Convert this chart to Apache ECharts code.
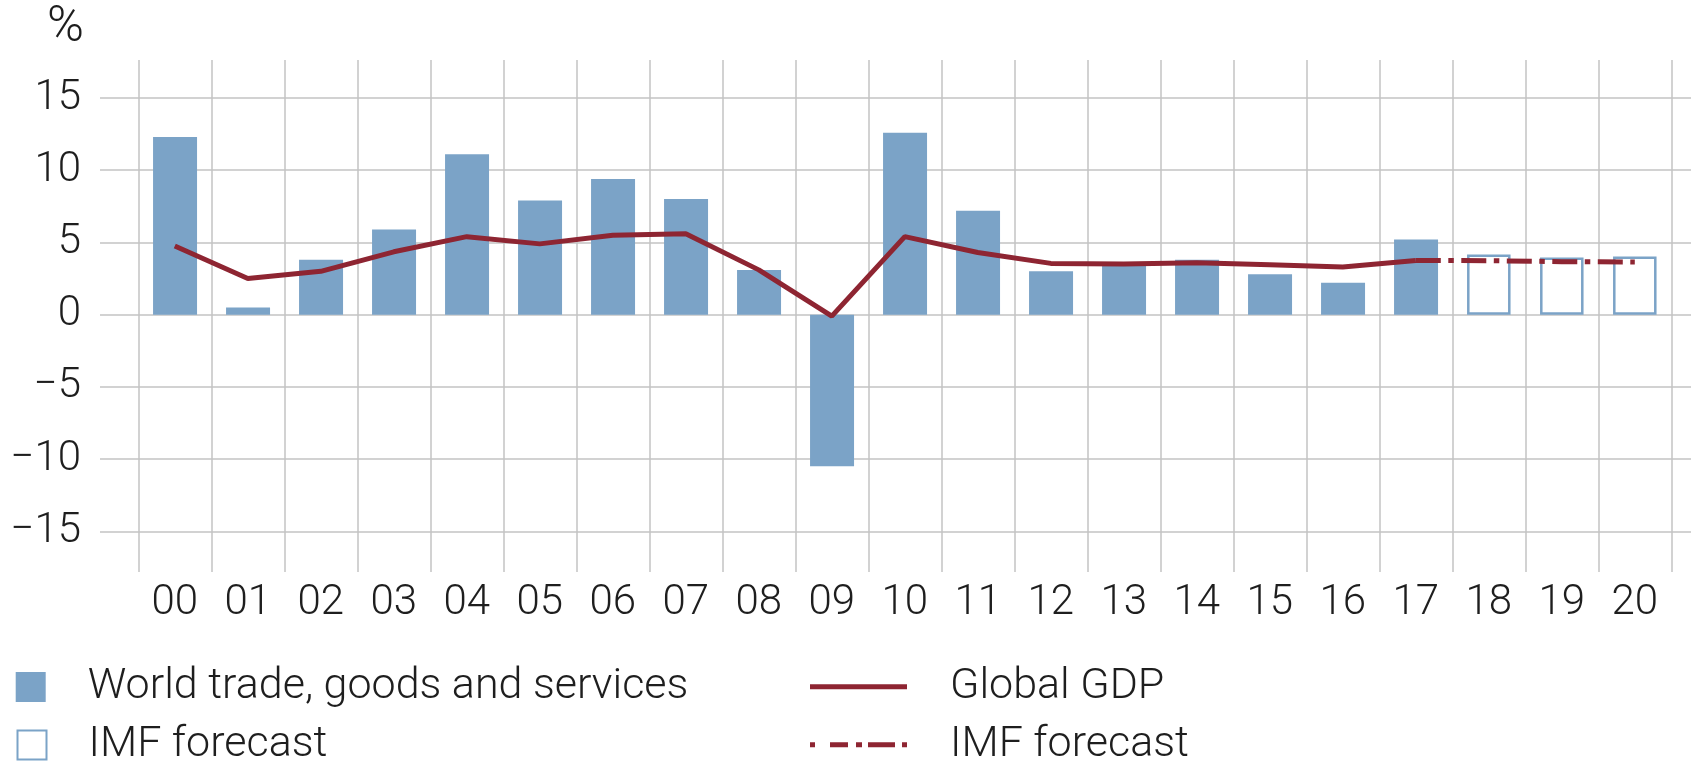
<!DOCTYPE html>
<html>
<head>
<meta charset="utf-8">
<script src="https://cdn.jsdelivr.net/npm/echarts@6/dist/echarts.min.js"></script>
<style>
  html, body { margin: 0; padding: 0; background: #fff; }
  #chart { width: 1694px; height: 763px; }
</style>
</head>
<body>
<div id="chart"></div>
<script>
// ---- data ----
var years = ['00','01','02','03','04','05','06','07','08','09','10','11','12','13','14','15','16','17','18','19','20'];
var tradeValues   = [12.3, 0.5, 3.8, 5.9, 11.1, 7.9, 9.4, 8.0, 3.1, -10.5, 12.6, 7.2, 3.0, 3.4, 3.8, 2.8, 2.2, 5.2, null, null, null];
var tradeForecast = [null, null, null, null, null, null, null, null, null, null, null, null, null, null, null, null, null, null, 4.17, 3.95, 4.02];
var gdpValues     = [4.75, 2.5, 3.0, 4.35, 5.4, 4.9, 5.5, 5.6, 3.1, -0.1, 5.4, 4.3, 3.55, 3.5, 3.6, 3.45, 3.3, 3.75, null, null, null];
var gdpForecast   = [null, null, null, null, null, null, null, null, null, null, null, null, null, null, null, null, null, 3.75, 3.74, 3.67, 3.65];
var yTicks = { min: -15, max: 15, step: 5 };

// ---- layout ----
var W = 1694, H = 763;
var labelTop = 98, labelBottom = 531.3;        // y pixels of +15 and -15 lines
var plotTop = 60, plotBottom = 572;             // extent of the category plot
var ppu = (labelBottom - labelTop) / (yTicks.max - yTicks.min);
var zeroY = labelTop + yTicks.max * ppu;
var plotMax = (zeroY - plotTop) / ppu;
var plotMin = -(plotBottom - zeroY) / ppu;

var BLUE = '#7ba3c7';
var RED = '#8e2532';
var GRID = '#c3c3c3';
var TEXT = '#1e1e1e';
var FONT = 'Roboto';
var FW = 300;

var dashIcon = 'path://M0 0h5v5h-5z M20 0h18v5h-18z M46 0h6v5h-6z M58 0h27v5h-27z M92 0h5v5h-5z';

function legendText(pad) {
  return { fontSize: 43, fontFamily: FONT, fontWeight: FW, color: TEXT, padding: [0, 0, 0, pad] };
}
function legendName(n) { return n.indexOf('IMF forecast') === 0 ? 'IMF forecast' : n; }

var chart = echarts.init(document.getElementById('chart'), null, { renderer: 'canvas' });

chart.setOption({
  animation: false,
  backgroundColor: '#fff',
  textStyle: { fontFamily: FONT, fontWeight: FW, color: TEXT },
  grid: [
    { left: 100, right: 3, top: labelTop, bottom: H - labelBottom, containLabel: false },
    { left: 138.3, right: W - 1671.3, top: plotTop, bottom: H - plotBottom, containLabel: false }
  ],
  xAxis: [
    { gridIndex: 0, type: 'value', show: false, min: 0, max: 1 },
    {
      gridIndex: 1, type: 'category', data: years, boundaryGap: true,
      axisLine: { show: false }, axisTick: { show: false },
      splitLine: { show: true, interval: 0, lineStyle: { color: GRID, width: 1.5 } },
      axisLabel: { interval: 0, margin: 10, fontSize: 42, fontFamily: FONT, fontWeight: FW, color: TEXT }
    }
  ],
  yAxis: [
    {
      gridIndex: 0, type: 'value', min: yTicks.min, max: yTicks.max, interval: yTicks.step,
      axisLine: { show: false }, axisTick: { show: false },
      splitLine: { show: true, lineStyle: { color: GRID, width: 1.5 } },
      axisLabel: {
        margin: 19, fontSize: 42, fontFamily: FONT, fontWeight: FW, color: TEXT,
        formatter: function (v) { return v < 0 ? '\u2212' + Math.abs(v) : String(v); }
      },
      name: '%', nameLocation: 'end', nameGap: 70,
      nameTextStyle: { fontSize: 50, fontFamily: FONT, fontWeight: FW, color: TEXT, align: 'right', verticalAlign: 'middle', padding: [0, 16, 0, 0] }
    },
    { gridIndex: 1, type: 'value', min: plotMin, max: plotMax, show: false, splitLine: { show: false } }
  ],
  legend: [
    {
      left: 15.7, top: 665.5, itemWidth: 30, itemHeight: 30, padding: 0, icon: 'rect',
      data: ['World trade, goods and services'], formatter: legendName, textStyle: legendText(37)
    },
    {
      left: 16.5, top: 723.5, itemWidth: 29, itemHeight: 29, padding: 0, icon: 'rect',
      data: ['IMF forecast (trade)'], formatter: legendName, textStyle: legendText(37)
    },
    {
      left: 810, top: 665.3, itemWidth: 97, itemHeight: 5, padding: 0, icon: 'rect',
      data: ['Global GDP'], formatter: legendName, textStyle: legendText(38)
    },
    {
      left: 810, top: 723.3, itemWidth: 97, itemHeight: 5, padding: 0, icon: dashIcon,
      data: ['IMF forecast (GDP)'], formatter: legendName, textStyle: legendText(38)
    }
  ],
  series: [
    {
      name: 'World trade, goods and services', type: 'bar', xAxisIndex: 1, yAxisIndex: 1,
      data: tradeValues, barWidth: 44, barGap: '-100%',
      itemStyle: { color: BLUE }
    },
    {
      name: 'IMF forecast (trade)', type: 'bar', xAxisIndex: 1, yAxisIndex: 1,
      data: tradeForecast, barWidth: 43.5, barGap: '-100%',
      itemStyle: { color: '#ffffff', borderColor: BLUE, borderWidth: 2.5 }
    },
    {
      name: 'Global GDP', type: 'line', xAxisIndex: 1, yAxisIndex: 1,
      data: gdpValues, symbol: 'none', z: 5,
      lineStyle: { color: RED, width: 5 }, itemStyle: { color: RED }
    },
    {
      name: 'IMF forecast (GDP)', type: 'line', xAxisIndex: 1, yAxisIndex: 1,
      data: gdpForecast, symbol: 'none', z: 5,
      lineStyle: { color: RED, width: 5, type: [25, 7.5, 5.5, 7.5] }, itemStyle: { color: RED }
    }
  ]
});
</script>
</body>
</html>
